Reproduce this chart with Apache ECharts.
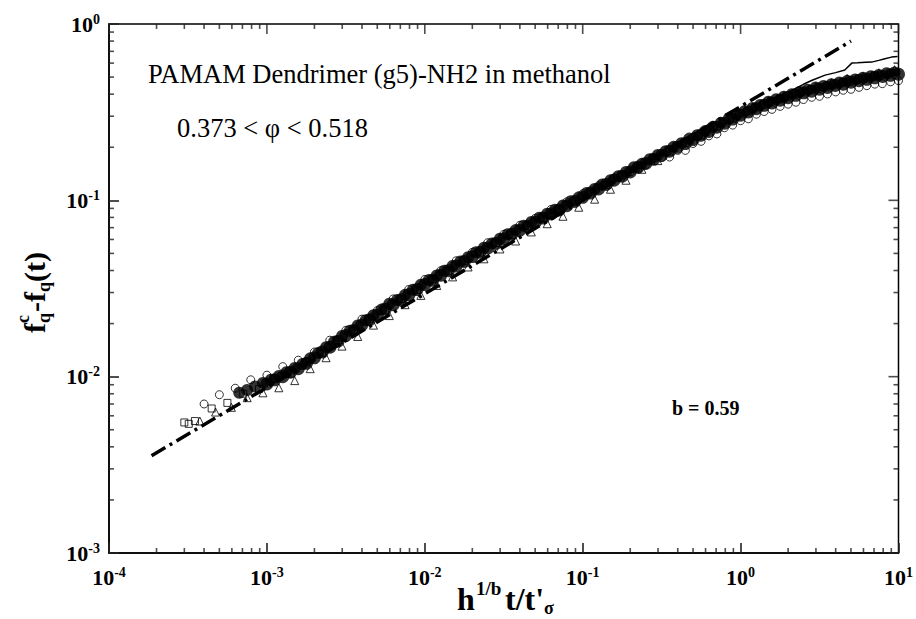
<!DOCTYPE html>
<html><head><meta charset="utf-8">
<script src="https://cdn.jsdelivr.net/npm/echarts@6/dist/echarts.min.js"></script>
<style>html,body{margin:0;padding:0;background:#fff}#c{width:916px;height:619px}</style>
</head><body><div id="c"></div>
<script>
// ---- tick labels / tick positions ----
const xTickLabels = [1e-4, 1e-3, 1e-2, 1e-1, 1, 10];
const yTickLabels = [1e-3, 1e-2, 1e-1, 1];
const minorMantissas = [2, 3, 4, 5, 6, 7, 8, 9];

// ---- data ----
// open circles
const circX = [4.0e-4,5.0e-4,6.3e-4,7.9e-4,1.0e-3,1.26e-3,1.58e-3,2.0e-3,2.5e-3,3.16e-3,4.0e-3,5.0e-3,6.3e-3,7.9e-3,1.0e-2,1.26e-2,1.58e-2,2.0e-2,2.5e-2,3.16e-2,4.0e-2,5.0e-2,6.3e-2,7.9e-2,0.1,0.126,0.158,0.2,0.25,0.316,0.4,0.5,0.63,0.79,1.0,1.26,1.58,2.0,2.5,3.16,4.0,5.0,6.3,7.9,10];
const circY = [7.0e-3,7.9e-3,8.6e-3,9.6e-3,1.02e-2,1.14e-2,1.24e-2,1.38e-2,1.61e-2,1.83e-2,2.12e-2,2.37e-2,2.76e-2,3.12e-2,3.56e-2,3.99e-2,4.54e-2,5.07e-2,5.75e-2,6.41e-2,7.22e-2,7.9e-2,8.88e-2,9.8e-2,0.109,0.121,0.134,0.145,0.159,0.175,0.192,0.210,0.232,0.258,0.283,0.308,0.328,0.351,0.373,0.389,0.412,0.426,0.447,0.459,0.477];
// open circles, lower (grey) part of the band at long times
const lowX = [0.355,0.447,0.562,0.708,0.891,1.12,1.41,1.78,2.24,2.82,3.55,4.47,5.62,7.08,8.91];
const lowY = [0.176,0.192,0.216,0.238,0.267,0.290,0.319,0.341,0.360,0.384,0.401,0.421,0.437,0.456,0.470];
// open squares
const sqX = [3.0e-4,3.2e-4,3.5e-4,4.47e-4,5.62e-4,7.08e-4,8.91e-4,1.12e-3,1.41e-3,1.78e-3,2.24e-3,2.82e-3,3.55e-3,4.47e-3,5.62e-3,7.08e-3,8.91e-3,1.12e-2,1.41e-2,1.78e-2,2.24e-2,2.82e-2,3.55e-2,4.47e-2,5.62e-2,7.08e-2,8.91e-2,0.112,0.141,0.178,0.224,0.282,0.355,0.447,0.562,0.708,0.891,1.12,1.41,1.78,2.24,2.82,3.55,4.47,5.62,7.08,8.91];
const sqY = [5.5e-3,5.4e-3,5.6e-3,6.6e-3,7.1e-3,8.0e-3,8.5e-3,9.7e-3,1.04e-2,1.21e-2,1.36e-2,1.61e-2,1.82e-2,2.13e-2,2.38e-2,2.76e-2,3.10e-2,3.57e-2,3.97e-2,4.54e-2,5.05e-2,5.74e-2,6.36e-2,7.16e-2,7.91e-2,8.90e-2,9.80e-2,0.111,0.122,0.139,0.152,0.173,0.189,0.212,0.233,0.263,0.291,0.322,0.350,0.378,0.402,0.426,0.449,0.470,0.492,0.512,0.530];
// open triangles
const triX = [3.76e-4,4.73e-4,5.96e-4,7.50e-4,9.44e-4,1.19e-3,1.50e-3,1.88e-3,2.37e-3,2.99e-3,3.76e-3,4.73e-3,5.96e-3,7.50e-3,9.44e-3,1.19e-2,1.50e-2,1.88e-2,2.37e-2,2.99e-2,3.76e-2,4.73e-2,5.96e-2,7.50e-2,9.44e-2,0.119,0.150,0.188,0.237,0.299,0.376,0.473,0.596,0.750,0.944,1.19,1.50,1.88,2.37,2.99,3.76,4.73,5.96,7.50,9.44];
const triY = [5.6e-3,6.3e-3,6.7e-3,7.6e-3,8.1e-3,8.65e-3,9.5e-3,1.11e-2,1.28e-2,1.49e-2,1.69e-2,1.96e-2,2.22e-2,2.56e-2,2.89e-2,3.29e-2,3.68e-2,4.19e-2,4.66e-2,5.30e-2,5.88e-2,6.62e-2,7.37e-2,8.12e-2,9.14e-2,0.1015,0.1156,0.130,0.150,0.168,0.199,0.220,0.248,0.275,0.308,0.337,0.368,0.395,0.419,0.443,0.465,0.491,0.506,0.529,0.551];
// dense overlapping points forming the dark core of the band
const coreX = [1.0e-3,1.12e-3,1.26e-3,1.41e-3,1.58e-3,1.78e-3,2.0e-3,2.24e-3,2.51e-3,2.82e-3,3.16e-3,3.55e-3,3.98e-3,4.47e-3,5.01e-3,5.62e-3,6.31e-3,7.08e-3,7.94e-3,8.91e-3,
 1.0e-2,1.12e-2,1.26e-2,1.41e-2,1.58e-2,1.78e-2,2.0e-2,2.24e-2,2.51e-2,2.82e-2,3.16e-2,3.55e-2,3.98e-2,4.47e-2,5.01e-2,5.62e-2,6.31e-2,7.08e-2,7.94e-2,8.91e-2,
 0.100,0.112,0.126,0.141,0.158,0.178,0.200,0.224,0.251,0.282,0.316,0.355,0.398,0.447,0.501,0.562,0.631,0.708,0.794,0.891,
 1.00,1.12,1.26,1.41,1.58,1.78,2.00,2.24,2.51,2.82,3.16,3.55,3.98,4.47,5.01,5.62,6.31,7.08,7.94,8.91,10];
const coreY = [9.1e-3,9.6e-3,1.0e-2,1.06e-2,1.11e-2,1.19e-2,1.28e-2,1.38e-2,1.47e-2,1.59e-2,1.71e-2,1.83e-2,1.96e-2,2.10e-2,2.24e-2,2.42e-2,2.56e-2,2.73e-2,2.92e-2,3.12e-2,
 3.33e-2,3.52e-2,3.76e-2,3.99e-2,4.24e-2,4.50e-2,4.80e-2,5.07e-2,5.37e-2,5.70e-2,6.05e-2,6.42e-2,6.75e-2,7.12e-2,7.52e-2,7.94e-2,8.38e-2,8.80e-2,9.33e-2,9.85e-2,
 0.104,0.110,0.116,0.123,0.130,0.137,0.145,0.154,0.162,0.171,0.180,0.190,0.200,0.210,0.221,0.234,0.246,0.260,0.274,0.289,
 0.304,0.317,0.331,0.346,0.357,0.370,0.382,0.394,0.407,0.416,0.427,0.437,0.448,0.456,0.468,0.477,0.486,0.495,0.504,0.512,0.519];
const core2X = [6.68e-4,7.50e-4,8.41e-4,9.44e-4,
 1.06e-3,1.19e-3,1.33e-3,1.50e-3,1.68e-3,1.88e-3,2.11e-3,2.37e-3,2.66e-3,2.99e-3,3.35e-3,3.76e-3,4.22e-3,4.73e-3,5.31e-3,5.96e-3,6.68e-3,7.50e-3,8.41e-3,9.44e-3,
 1.06e-2,1.19e-2,1.33e-2,1.50e-2,1.68e-2,1.88e-2,2.11e-2,2.37e-2,2.66e-2,2.99e-2,3.35e-2,3.76e-2,4.22e-2,4.73e-2,5.31e-2,5.96e-2,6.68e-2,7.50e-2,8.41e-2,9.44e-2,
 0.106,0.119,0.133,0.150,0.168,0.188,0.211,0.237,0.266,0.299,0.335,0.376,0.422,0.473,0.531,0.596,0.668,0.750,0.841,0.944,
 1.06,1.19,1.33,1.50,1.68,1.88,2.11,2.37,2.66,2.99,3.35,3.76,4.22,4.73,5.31,5.96,6.68,7.50,8.41,9.44];
const core2Y = [8.1e-3,8.4e-3,8.8e-3,9.2e-3,
 9.6e-3,1.01e-2,1.06e-2,1.12e-2,1.18e-2,1.27e-2,1.36e-2,1.47e-2,1.58e-2,1.70e-2,1.82e-2,1.95e-2,2.09e-2,2.23e-2,2.40e-2,2.59e-2,2.72e-2,2.91e-2,3.11e-2,3.32e-2,
 3.53e-2,3.75e-2,3.99e-2,4.24e-2,4.50e-2,4.76e-2,5.08e-2,5.38e-2,5.70e-2,6.05e-2,6.42e-2,6.78e-2,7.18e-2,7.54e-2,7.96e-2,8.40e-2,8.85e-2,9.34e-2,9.88e-2,0.104,
 0.110,0.116,0.123,0.130,0.137,0.145,0.154,0.161,0.171,0.181,0.190,0.201,0.211,0.224,0.234,0.247,0.261,0.275,0.290,0.305,
 0.320,0.334,0.347,0.362,0.374,0.387,0.400,0.412,0.424,0.437,0.445,0.456,0.466,0.476,0.485,0.496,0.505,0.514,0.526,0.531];
// upper thin curve
const thinX = [1.5,2.0,2.5,2.84,3.43,4.0,4.57,5.06,5.5,6.2,6.76,7.5,8.2,9.03,9.86];
const thinY = [0.37,0.41,0.455,0.48,0.513,0.53,0.548,0.60,0.602,0.606,0.608,0.622,0.636,0.649,0.655];
// dash-dot power law, b = 0.59
const fitX = [1.86e-4, 5.0];
const fitY = [3.56e-3, 0.80];

const SERIF = '"Liberation Serif","Times New Roman",serif';
const TICK = '#222';
const zip = (xs, ys) => xs.map((x, i) => [x, ys[i]]);
const X0 = 1e-4, X1 = 10, Y0 = 1e-3, Y1 = 1;

function minorTicks(e0, e1) {
  const out = [];
  for (let e = e0; e < e1; e++) minorMantissas.forEach(m => out.push(+(m * Math.pow(10, e)).toPrecision(3)));
  return out;
}
const xMinor = minorTicks(-4, 1), yMinor = minorTicks(-3, 0);

const labelRich = {
  b: { fontFamily: SERIF, fontWeight: 'bold', fontSize: 22, color: '#000', lineHeight: 24 },
  s: { fontFamily: SERIF, fontWeight: 'bold', fontSize: 14, color: '#000', lineHeight: 14, verticalAlign: 'top' }
};
const fmt = v => '{b|10}{s|' + Math.round(Math.log10(v)) + '}';

// inward tick marks drawn as thin bar symbols anchored on the frame
function tickMarks(vals, side, len) {
  const data = vals.map(v => side === 'b' ? [v, Y0] : side === 't' ? [v, Y1] : side === 'l' ? [X0, v] : [X1, v]);
  const vert = side === 'b' || side === 't';
  return {
    type: 'scatter', clip: false, data,
    symbol: 'rect', symbolSize: vert ? [1.6, len] : [len, 1.6],
    symbolOffset: side === 'b' ? [0, -len / 2] : side === 't' ? [0, len / 2] : side === 'l' ? [len / 2, 0] : [-len / 2, 0],
    itemStyle: { color: TICK }
  };
}

const chart = echarts.init(document.getElementById('c'), null, { renderer: 'svg' });
const open = { color: 'rgba(255,255,255,0)', borderColor: '#000', borderWidth: 1 };
const txt = (text, font) => ({ text, font, fill: '#000', textVerticalAlign: 'middle' });
chart.setOption({
  animation: false,
  grid: { left: 109, right: 13, top: 24, bottom: 66, show: true, borderColor: '#000', borderWidth: 1.5, backgroundColor: 'transparent' },
  xAxis: { type: 'log', min: X0, max: X1,
    axisLine: { onZero: false, lineStyle: { color: '#000', width: 1.5 } },
    axisTick: { show: true, inside: true, length: 10, customValues: xTickLabels, lineStyle: { color: TICK, width: 1.6 } },
    axisLabel: { customValues: xTickLabels, formatter: fmt, rich: labelRich, margin: 12 },
    splitLine: { show: false } },
  yAxis: { type: 'log', min: Y0, max: Y1,
    axisLine: { onZero: false, lineStyle: { color: '#000', width: 1.5 } },
    axisTick: { show: true, inside: true, length: 10, customValues: yTickLabels, lineStyle: { color: TICK, width: 1.6 } },
    axisLabel: { customValues: yTickLabels, formatter: fmt, rich: labelRich, margin: 9 },
    splitLine: { show: false } },
  series: [
    { type: 'scatter', name: 'core', data: zip(coreX, coreY), symbol: 'circle', symbolSize: 13, itemStyle: { color: '#000' } },
    { type: 'scatter', name: 'core2', data: zip(core2X, core2Y), symbol: 'circle', symbolSize: 12, itemStyle: { color: '#000' } },
    { type: 'scatter', name: 'circles', data: zip(circX, circY), symbol: 'circle', symbolSize: 8, itemStyle: open },
    { type: 'scatter', name: 'circlesLow', data: zip(lowX, lowY), symbol: 'circle', symbolSize: 8, itemStyle: open },
    { type: 'scatter', name: 'squares', data: zip(sqX, sqY), symbol: 'rect', symbolSize: 7, itemStyle: open },
    { type: 'scatter', name: 'triangles', data: zip(triX, triY), symbol: 'triangle', symbolSize: 8, itemStyle: open },
    { type: 'line', name: 'upper', data: zip(thinX, thinY), showSymbol: false, lineStyle: { color: '#000', width: 1.5 } },
    { type: 'line', name: 'fit', data: zip(fitX, fitY), showSymbol: false,
      lineStyle: { color: '#000', width: 3.5, type: [16, 5, 3, 5], cap: 'butt' } },
    tickMarks(xMinor, 'b', 5),
    tickMarks(xTickLabels, 't', 10), tickMarks(xMinor, 't', 5),
    tickMarks(yMinor, 'l', 5),
    tickMarks(yTickLabels, 'r', 10), tickMarks(yMinor, 'r', 5)
  ],
  graphic: [
    { type: 'text', x: 148, y: 74, style: txt('PAMAM Dendrimer (g5)-NH2 in methanol', '26.5px ' + SERIF) },
    { type: 'text', x: 177, y: 128, style: txt('0.373 < \u03c6 < 0.518', '26.5px ' + SERIF) },
    { type: 'text', x: 672, y: 408, style: txt('b = 0.59', 'bold 20px ' + SERIF) },
    { type: 'group', x: 457, y: 599, children: [
      { type: 'text', x: 0, y: 0, style: txt('h', 'bold 32px ' + SERIF) },
      { type: 'text', x: 19, y: -11, style: txt('1/b', 'bold 19px ' + SERIF) },
      { type: 'text', x: 48, y: 0, style: txt("t/t'", 'bold 32px ' + SERIF) },
      { type: 'text', x: 87, y: 9, style: txt('\u03c3', 'bold 18px ' + SERIF) }
    ] },
    { type: 'group', x: 34, y: 333, rotation: Math.PI / 2, children: [
      { type: 'text', x: 0, y: 0, style: txt('f', 'bold 30px ' + SERIF) },
      { type: 'text', x: 10, y: 10, style: txt('q', 'bold 18px ' + SERIF) },
      { type: 'text', x: 10, y: -11, style: txt('c', 'bold 18px ' + SERIF) },
      { type: 'text', x: 21, y: 0, style: txt('-f', 'bold 30px ' + SERIF) },
      { type: 'text', x: 41, y: 10, style: txt('q', 'bold 18px ' + SERIF) },
      { type: 'text', x: 51, y: 0, style: txt('(t)', 'bold 30px ' + SERIF) }
    ] }
  ]
});
</script></body></html>
